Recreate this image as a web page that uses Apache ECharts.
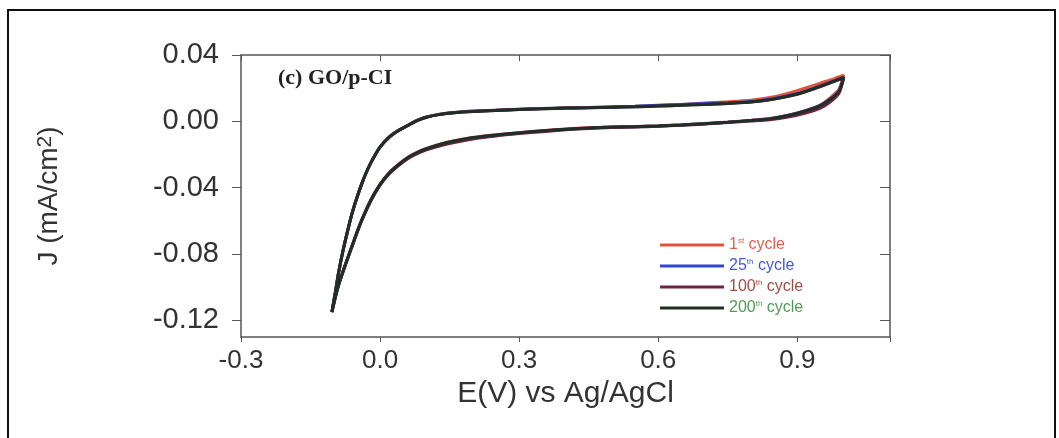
<!DOCTYPE html>
<html>
<head>
<meta charset="utf-8">
<script src="https://cdn.jsdelivr.net/npm/echarts@6/dist/echarts.min.js"></script>
<style>
    html, body { margin: 0; background: #fff; }
    #chart { width: 1059px; height: 438px; }
</style>
</head>
<body>
<div id="chart"></div>
<script>
// potential of the CV loop: forward scan -0.104 -> 1.0 V, then back to -0.104 V
var potential = [
    -0.104, -0.097, -0.090, -0.080, -0.070, -0.060, -0.050, -0.040, -0.030, -0.020,
    -0.010, 0.000, 0.020, 0.040, 0.060, 0.080, 0.100, 0.130, 0.160, 0.200,
    0.250, 0.300, 0.350, 0.400, 0.450, 0.500, 0.550, 0.600, 0.650, 0.700,
    0.750, 0.800, 0.850, 0.900, 0.930, 0.960, 0.980, 1.000,
    0.990, 0.970, 0.950, 0.920, 0.880, 0.840, 0.800, 0.750, 0.700, 0.650,
    0.600, 0.550, 0.500, 0.450, 0.400, 0.350, 0.300, 0.250, 0.200, 0.160,
    0.130, 0.100, 0.080, 0.060, 0.040, 0.020, 0.000, -0.020, -0.040, -0.050,
    -0.060, -0.070, -0.080, -0.090, -0.097, -0.104
];

// current density (mA/cm2) for each cycle, same order as potential
var j1st = [
    -0.115, -0.104, -0.092, -0.078, -0.066, -0.055, -0.046, -0.038, -0.031, -0.025,
    -0.020, -0.0152, -0.0092, -0.0053, -0.0023, 0.0007, 0.0027, 0.0044, 0.0054, 0.0062,
    0.0068, 0.0073, 0.0077, 0.0081, 0.0084, 0.0087, 0.0091, 0.0096, 0.0102, 0.0110,
    0.0118, 0.0128, 0.0148, 0.0185, 0.0212, 0.0240, 0.0258, 0.0278,
    0.0195, 0.0140, 0.0100, 0.0068, 0.0037, 0.0017, 0.0006, -0.0004, -0.0013, -0.0021,
    -0.0027, -0.0031, -0.0034, -0.0039, -0.0046, -0.0056, -0.0068, -0.0081, -0.0097, -0.0117,
    -0.0137, -0.0163, -0.0186, -0.0216, -0.0258, -0.0308, -0.0378, -0.0472, -0.0596, -0.0668,
    -0.0746, -0.0823, -0.0903, -0.0988, -0.1064, -0.1150
];
var j25th = [
    -0.115, -0.104, -0.092, -0.078, -0.066, -0.055, -0.046, -0.038, -0.031, -0.025,
    -0.020, -0.0154, -0.0094, -0.0054, -0.0024, 0.0006, 0.0026, 0.0043, 0.0053, 0.0061,
    0.0067, 0.0073, 0.0077, 0.0081, 0.0083, 0.0087, 0.0091, 0.0097, 0.0102, 0.0107,
    0.0113, 0.0120, 0.0138, 0.0168, 0.0194, 0.0224, 0.0245, 0.0266,
    0.0182, 0.0132, 0.0096, 0.0066, 0.0036, 0.0015, 0.0005, -0.0005, -0.0014, -0.0022,
    -0.0028, -0.0032, -0.0035, -0.0041, -0.0049, -0.0059, -0.0071, -0.0085, -0.0101, -0.0121,
    -0.0141, -0.0168, -0.0191, -0.0221, -0.0263, -0.0313, -0.0383, -0.0478, -0.0600, -0.0672,
    -0.0750, -0.0827, -0.0907, -0.0992, -0.1067, -0.1150
];
var j100th = [
    -0.115, -0.104, -0.092, -0.078, -0.066, -0.055, -0.046, -0.038, -0.031, -0.025,
    -0.020, -0.0155, -0.0095, -0.0055, -0.0025, 0.0005, 0.0025, 0.0042, 0.0052, 0.0060,
    0.0066, 0.0072, 0.0076, 0.0080, 0.0082, 0.0085, 0.0088, 0.0092, 0.0097, 0.0102,
    0.0108, 0.0116, 0.0134, 0.0163, 0.0190, 0.0220, 0.0241, 0.0262,
    0.0170, 0.0115, 0.0080, 0.0052, 0.0026, 0.0010, 0.0002, -0.0007, -0.0016, -0.0024,
    -0.0030, -0.0034, -0.0037, -0.0043, -0.0051, -0.0062, -0.0074, -0.0088, -0.0106, -0.0127,
    -0.0147, -0.0172, -0.0195, -0.0225, -0.0266, -0.0316, -0.0384, -0.0480, -0.0601, -0.0673,
    -0.0751, -0.0828, -0.0908, -0.0992, -0.1067, -0.1150
];
var j200th = [
    -0.115, -0.104, -0.092, -0.078, -0.066, -0.055, -0.046, -0.038, -0.031, -0.025,
    -0.020, -0.0155, -0.0095, -0.0055, -0.0025, 0.0005, 0.0025, 0.0042, 0.0052, 0.0060,
    0.0066, 0.0072, 0.0076, 0.0080, 0.0082, 0.0085, 0.0088, 0.0092, 0.0097, 0.0102,
    0.0108, 0.0116, 0.0135, 0.0165, 0.0192, 0.0222, 0.0243, 0.0265,
    0.0180, 0.0130, 0.0095, 0.0065, 0.0035, 0.0015, 0.0005, -0.0005, -0.0014, -0.0022,
    -0.0028, -0.0032, -0.0034, -0.0040, -0.0047, -0.0057, -0.0069, -0.0082, -0.0098, -0.0118,
    -0.0138, -0.0165, -0.0188, -0.0218, -0.0260, -0.0310, -0.0380, -0.0475, -0.0598, -0.0670,
    -0.0748, -0.0825, -0.0905, -0.0990, -0.1066, -0.1150
];

var cycleNames = ['1st cycle', '25th cycle', '100th cycle', '200th cycle'];
var cycleData = [j1st, j25th, j100th, j200th];
var lineColors = ['#e4543c', '#3247cf', '#6e2440', '#1f2f25'];
var textColors = ['#e0604c', '#4659cf', '#a24c44', '#4f9a55'];

var xTicks = [-0.3, 0.0, 0.3, 0.6, 0.9];
var yTicks = [-0.12, -0.08, -0.04, 0.00, 0.04];

var myChart = echarts.init(document.getElementById('chart'));

var series = cycleData.map(function (j, i) {
    return {
        type: 'line',
        name: cycleNames[i],
        data: potential.map(function (e, k) { return [e, j[k]]; }),
        smooth: 0.25,
        showSymbol: false,
        symbol: 'none',
        animation: false,
        color: lineColors[i],
        lineStyle: { width: 3, color: lineColors[i] }
    };
});

var sans = 'Liberation Sans, Arial, sans-serif';

var option = {
    backgroundColor: '#ffffff',
    title: {
        text: '(c) GO/p-CI',
        left: 273,
        top: 62,
        textStyle: {
            fontFamily: 'Liberation Serif, Times New Roman, serif',
            fontWeight: 'bold',
            fontSize: 22,
            color: '#222'
        }
    },
    grid: { left: 241, right: 169, top: 55, bottom: 101 },
    legend: {
        orient: 'vertical',
        left: 655,
        top: 232,
        icon: 'rect',
        itemWidth: 64,
        itemHeight: 3,
        itemGap: 5,
        data: cycleNames.map(function (n, i) {
            return { name: n, textStyle: { color: textColors[i] }, itemStyle: { color: lineColors[i] } };
        }),
        formatter: function (name) {
            return name.replace(/(\d+)(st|th)/, '$1{s|$2}');
        },
        textStyle: {
            fontFamily: sans,
            fontSize: 16,
            rich: { s: { fontSize: 8, verticalAlign: 'top' } }
        }
    },
    xAxis: [{
        type: 'value',
        min: -0.3,
        max: 1.1,
        interval: 0.3,
        name: 'E(V) vs Ag/AgCl',
        nameLocation: 'middle',
        nameGap: 42,
        nameTextStyle: { fontFamily: sans, fontSize: 30, color: '#333' },
        axisLine: { show: true, onZero: false, lineStyle: { color: '#555', width: 1.5 } },
        axisTick: { show: true, inside: false, length: 5, lineStyle: { color: '#555' } },
        axisLabel: {
            fontFamily: sans, fontSize: 26, color: '#333', margin: 11,
            customValues: xTicks,
            formatter: function (v) { return v.toFixed(1); }
        },
        splitLine: { show: false }
    }, {
        type: 'value',
        position: 'top',
        min: -0.3,
        max: 1.1,
        interval: 0.3,
        axisLine: { show: true, onZero: false, lineStyle: { color: '#555', width: 1.5 } },
        axisTick: { show: true, inside: true, length: 6, lineStyle: { color: '#555' } },
        axisLabel: { show: false },
        splitLine: { show: false }
    }],
    yAxis: [{
        type: 'value',
        min: -0.13,
        max: 0.04,
        name: 'J (mA/cm{s|2})',
        nameLocation: 'middle',
        nameGap: 178,
        nameTextStyle: {
            fontFamily: sans, fontSize: 28, color: '#333',
            rich: { s: { fontSize: 21, verticalAlign: 'top' } }
        },
        axisLine: { show: true, onZero: false, lineStyle: { color: '#555', width: 1.5 } },
        axisTick: { show: true, inside: false, length: 9, customValues: yTicks, lineStyle: { color: '#555' } },
        axisLabel: {
            fontFamily: sans, fontSize: 29, color: '#333', margin: 22,
            customValues: yTicks,
            formatter: function (v) { return v.toFixed(2); }
        },
        splitLine: { show: false }
    }, {
        type: 'value',
        position: 'right',
        min: -0.13,
        max: 0.04,
        axisLine: { show: true, onZero: false, lineStyle: { color: '#555', width: 1.5 } },
        axisTick: { show: true, inside: true, length: 10, customValues: yTicks, lineStyle: { color: '#555' } },
        axisLabel: { show: false, customValues: yTicks },
        splitLine: { show: false }
    }],
    graphic: [{
        type: 'rect',
        silent: true,
        shape: { x: 8, y: 10, width: 1047, height: 440 },
        style: { fill: 'none', stroke: '#111', lineWidth: 2 }
    }],
    series: series
};

myChart.setOption(option);
</script>
</body>
</html>
